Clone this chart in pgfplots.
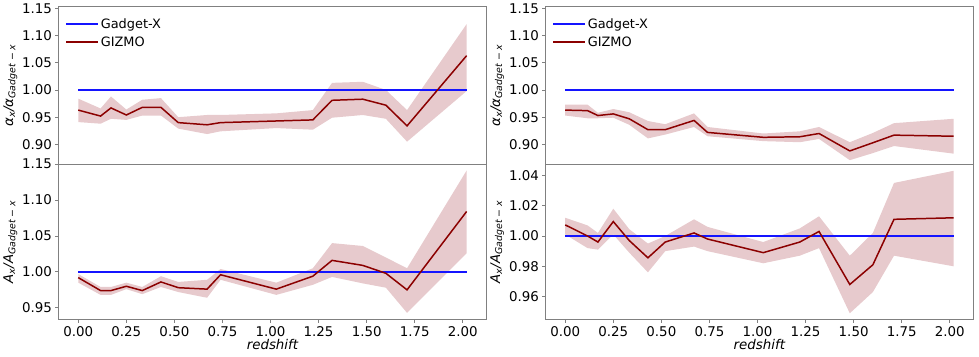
\documentclass[border=0pt]{standalone}
\usepackage{fontspec}
\setmainfont{DejaVu Sans}[ItalicFont={DejaVu Sans Oblique},BoldFont={DejaVu Sans Bold}]
\usepackage{pgfplots}
\pgfplotsset{compat=1.18}
\definecolor{band}{RGB}{231,202,205}
\definecolor{gz}{RGB}{139,0,0}
\definecolor{gx}{RGB}{20,20,255}
\definecolor{fr}{RGB}{128,128,128}

\pgfplotsset{
 panel/.style={
  scale only axis, width=429bp, anchor=south west,
  xmin=-0.101, xmax=2.121,
  axis line style={draw=fr, line width=0.8pt},
  tick style={draw=fr, line width=0.8pt},
  tick align=outside, major tick length=3.5bp,
  ytick pos=left, xtick pos=bottom,
  /pgf/number format/assume math mode=true,
  ticklabel style={font=\fontsize{13.5}{16}\selectfont},
  yticklabel style={/pgf/number format/.cd, fixed, fixed zerofill, precision=2},
  xticklabel style={/pgf/number format/.cd, fixed, fixed zerofill, precision=2},
  ylabel style={font=\fontsize{13.5}{16}\selectfont, yshift=-2bp},
  xlabel style={font=\fontsize{13.5}{16}\selectfont, yshift=4bp},
 },
 toppanel/.style={panel, height=158bp, xtick=\empty, ymin=0.864, ymax=1.153,
  ytick={0.90,0.95,1.00,1.05,1.10,1.15},
  ylabel={\itshape α\textsubscript{x}/α\textsubscript{Gadget − x}},
  legend style={draw=none, fill=none, at={(0.008,0.952)}, anchor=north west,
   font=\fontsize{13}{15}\selectfont, row sep=3bp},
  legend cell align=left,
  legend image code/.code={\draw[##1] (0bp,0bp) -- (18bp,0bp); \path (0bp,0bp) -- (32bp,0bp);},
 },
 botpanel/.style={panel, height=156bp,
  xtick={0,0.25,0.5,0.75,1,1.25,1.5,1.75,2},
  xlabel={\itshape redshift},
  ylabel={\itshape A\textsubscript{x}/A\textsubscript{Gadget − x}},
 },
 gxline/.style={color=gx, draw=gx, line width=1.3bp},
 gzline/.style={draw=gz, line width=1.5bp},
 bandfill/.style={fill=band, draw=none, forget plot},
}

\begin{document}
\begin{tikzpicture}
% left top
\begin{axis}[toppanel, at={(55bp,193bp)}]
\addplot[bandfill] coordinates {
 (0,0.984) (0.116,0.966) (0.17,0.988) (0.25,0.964) (0.333,0.982) (0.43,0.985)
 (0.52,0.950) (0.67,0.954) (0.74,0.954) (1.03,0.957) (1.22,0.963) (1.32,1.013)
 (1.48,1.015) (1.60,1.000) (1.71,0.963) (2.02,1.121)
 (2.02,0.998) (1.71,0.905) (1.60,0.947) (1.48,0.954) (1.32,0.949) (1.22,0.927)
 (1.03,0.930) (0.74,0.924) (0.67,0.919) (0.52,0.929) (0.43,0.953) (0.333,0.953)
 (0.25,0.945) (0.17,0.947) (0.116,0.938) (0,0.941)};
\addplot[gxline] coordinates {(0,1) (2.02,1)};
\addlegendentry{Gadget-X}
\addplot[gzline] coordinates {
 (0,0.963) (0.116,0.952) (0.17,0.967) (0.25,0.954) (0.333,0.968) (0.43,0.968)
 (0.52,0.940) (0.67,0.936) (0.74,0.940) (1.03,0.943) (1.22,0.945) (1.32,0.981)
 (1.48,0.983) (1.60,0.972) (1.71,0.934) (2.02,1.063)};
\addlegendentry{GIZMO}
\end{axis}

% left bottom
\begin{axis}[botpanel, at={(55bp,37bp)}, ymin=0.934, ymax=1.150,
  ytick={0.95,1.00,1.05,1.10,1.15}]
\addplot[bandfill] coordinates {
 (0,0.997) (0.116,0.979) (0.17,0.979) (0.25,0.985) (0.333,0.979) (0.43,0.994)
 (0.52,0.986) (0.67,0.989) (0.74,1.004) (1.03,0.985) (1.22,1.005) (1.32,1.040)
 (1.48,1.036) (1.60,1.020) (1.71,1.005) (2.02,1.141)
 (2.02,1.026) (1.71,0.943) (1.60,0.978) (1.48,0.984) (1.32,0.993) (1.22,0.982)
 (1.03,0.968) (0.74,0.989) (0.67,0.964) (0.52,0.972) (0.43,0.979) (0.333,0.969)
 (0.25,0.976) (0.17,0.968) (0.116,0.968) (0,0.985)};
\addplot[gxline] coordinates {(0,1) (2.02,1)};
\addplot[gzline] coordinates {
 (0,0.992) (0.116,0.974) (0.17,0.974) (0.25,0.980) (0.333,0.974) (0.43,0.986)
 (0.52,0.978) (0.67,0.976) (0.74,0.996) (1.03,0.976) (1.22,0.994) (1.32,1.016)
 (1.48,1.009) (1.60,0.998) (1.71,0.975) (2.02,1.084)};
\end{axis}

% right top
\begin{axis}[toppanel, at={(544bp,193bp)}]
\addplot[bandfill] coordinates {
 (0,0.973) (0.116,0.973) (0.17,0.958) (0.25,0.965) (0.333,0.959) (0.43,0.943)
 (0.52,0.937) (0.67,0.957) (0.74,0.932) (1.03,0.920) (1.22,0.924) (1.32,0.932)
 (1.48,0.904) (1.60,0.921) (1.71,0.939) (2.02,0.947)
 (2.02,0.883) (1.71,0.897) (1.60,0.884) (1.48,0.871) (1.32,0.910) (1.22,0.904)
 (1.03,0.906) (0.74,0.915) (0.67,0.932) (0.52,0.918) (0.43,0.911) (0.333,0.936)
 (0.25,0.949) (0.17,0.948) (0.116,0.948) (0,0.953)};
\addplot[gxline] coordinates {(0,1) (2.02,1)};
\addlegendentry{Gadget-X}
\addplot[gzline] coordinates {
 (0,0.963) (0.116,0.962) (0.17,0.953) (0.25,0.956) (0.333,0.947) (0.43,0.927)
 (0.52,0.927) (0.67,0.944) (0.74,0.922) (1.03,0.913) (1.22,0.914) (1.32,0.920)
 (1.48,0.888) (1.60,0.903) (1.71,0.917) (2.02,0.915)};
\addlegendentry{GIZMO}
\end{axis}

% right bottom
\begin{axis}[botpanel, at={(544bp,37bp)}, ymin=0.945, ymax=1.0475,
  ytick={0.96,0.98,1.00,1.02,1.04}]
\addplot[bandfill] coordinates {
 (0,1.012) (0.116,1.007) (0.17,1.002) (0.25,1.018) (0.333,1.0045) (0.43,0.995)
 (0.52,1.000) (0.67,1.011) (0.74,1.006) (1.03,0.996) (1.22,1.005) (1.32,1.013)
 (1.48,0.987) (1.60,1.002) (1.71,1.035) (2.02,1.043)
 (2.02,0.980) (1.71,0.987) (1.60,0.963) (1.48,0.949) (1.32,0.992) (1.22,0.987)
 (1.03,0.982) (0.74,0.990) (0.67,0.993) (0.52,0.990) (0.43,0.976) (0.333,0.989)
 (0.25,1.001) (0.17,0.991) (0.116,0.992) (0,1.001)};
\addplot[gxline] coordinates {(0,1) (2.02,1)};
\addplot[gzline] coordinates {
 (0,1.0073) (0.116,1.000) (0.17,0.996) (0.25,1.0095) (0.333,0.997) (0.43,0.9856)
 (0.52,0.996) (0.67,1.002) (0.74,0.998) (1.03,0.989) (1.22,0.996) (1.32,1.003)
 (1.48,0.968) (1.60,0.981) (1.71,1.011) (2.02,1.012)};
\end{axis}
\path (0bp,0bp) rectangle (979bp,356bp);
\end{tikzpicture}
\end{document}
